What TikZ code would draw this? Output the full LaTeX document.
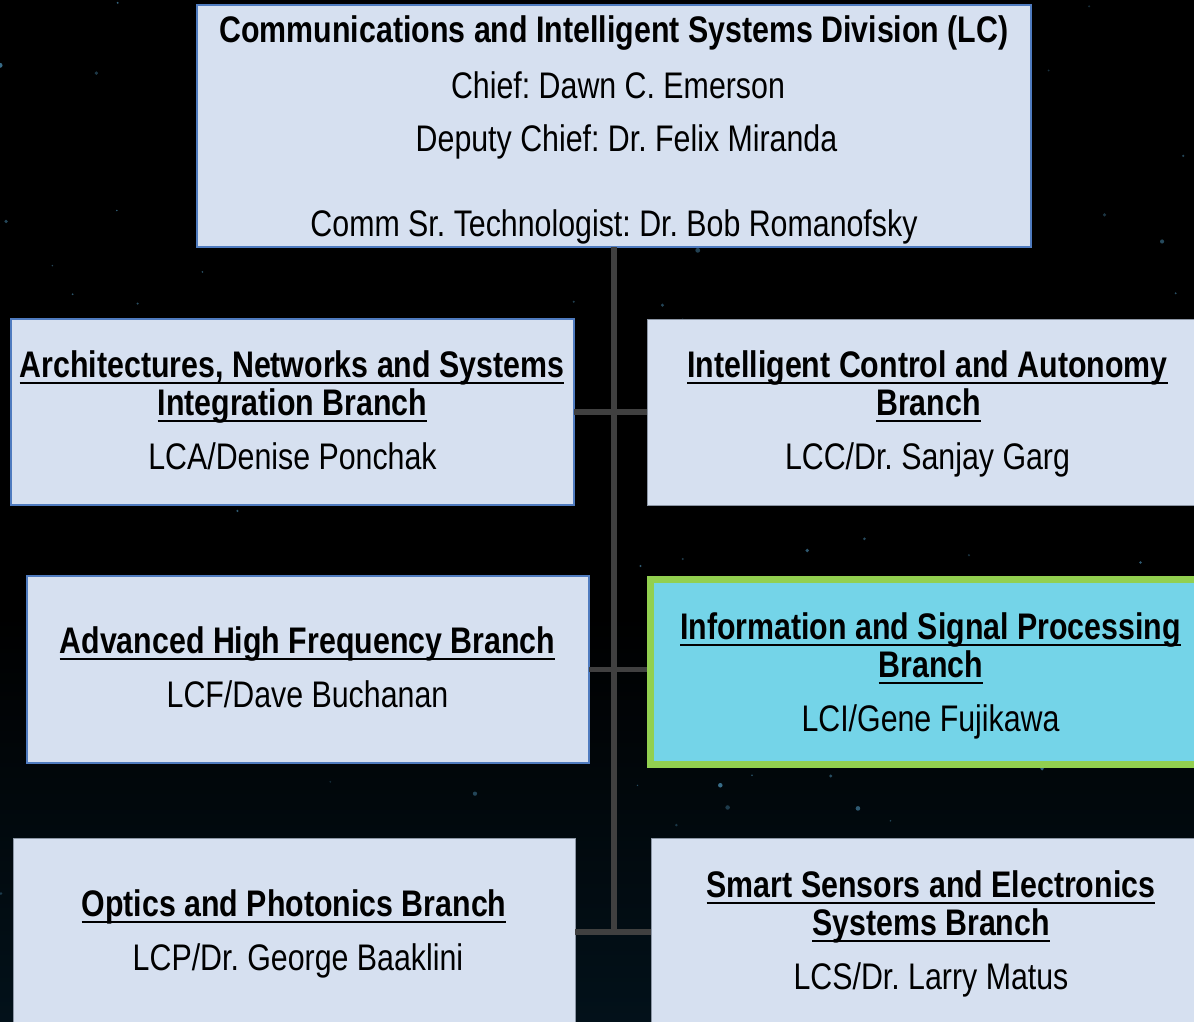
\documentclass[tikz,border=0pt]{standalone}
\usepackage{fontspec}
\setmainfont[FakeStretch=0.82]{Liberation Sans}
\frenchspacing
\newcommand{\ulx}[1]{\setbox0\hbox{#1}\rlap{\rule[-3.4pt]{\wd0}{1pt}}\box0}
\usetikzlibrary{fit}
\definecolor{boxfill}{RGB}{214,224,240}
\definecolor{boxblue}{RGB}{79,123,191}
\definecolor{boxgray}{RGB}{140,150,165}
\definecolor{hifill}{RGB}{116,212,232}
\definecolor{higreen}{RGB}{146,208,80}
\definecolor{conngray}{RGB}{64,64,64}
\definecolor{bgbot}{RGB}{11,56,76}
\definecolor{bgmid}{RGB}{3,20,30}
\definecolor{starcol}{RGB}{60,115,145}
\pgfdeclareverticalshading{bgsh}{100bp}{color(0bp)=(bgbot); color(22bp)=(bgmid); color(45bp)=(black); color(100bp)=(black)}
\begin{document}
\begin{tikzpicture}[x=0.5pt,y=-0.5pt,
  box/.style={draw=boxblue, line width=1pt, fill=boxfill, inner sep=0pt, outer sep=0pt},
  plainbox/.style={draw=boxgray, line width=0.4pt, fill=boxfill, inner sep=0pt, outer sep=0pt},
  hibox/.style={draw=higreen, line width=3.5pt, fill=hifill, inner sep=0pt, outer sep=0pt},
  conn/.style={draw=conngray, line width=2.6pt},
  txt/.style={anchor=base, inner sep=0pt, font=\fontsize{18.5}{22}\selectfont},
  hd/.style={txt, font=\fontsize{18.5}{22}\selectfont\bfseries}]
\useasboundingbox (0,0) rectangle (1194,1022);
\shade[shading=bgsh] (0,0) rectangle (1194,1022);
% stars
\pgfmathsetseed{11}
\foreach \i in {1,...,110}{
  \pgfmathsetmacro{\sx}{rnd*1194}
  \pgfmathsetmacro{\sy}{rnd*1022}
  \pgfmathsetmacro{\sr}{0.8+rnd*1.8}
  \pgfmathsetmacro{\so}{0.35+rnd*0.6}
  \fill[starcol, opacity=\so] (\sx,\sy) circle[radius=\sr];
}
% boxes
\node[box, fit={(197,5) (1031,247)}] (top) {};
\node[box, fit={(11,319) (574,505)}] (bA) {};
\node[plainbox, fit={(647,319) (1200,505)}] (bC) {};
\node[box, fit={(27,576) (589,763)}] (bF) {};
\node[plainbox, fit={(13,838) (575,1026)}] (bP) {};
\node[plainbox, fit={(651,838) (1200,1026)}] (bS) {};
% connectors
\coordinate (jbot) at (top.south |- bP.east);
\draw[conn] (top.south) -- ([yshift=-1.3pt]jbot);
\draw[conn] (bA.east) -- (bC.west);
\draw[conn] (bF.east) -- (bF.east -| 647,0);
\draw[conn] (bP.east) -- (bS.west);
\node[hibox, fit={(650.5,579.5) (1200,764.5)}] (bI) {};
% texts
\node[hd] (t0) at (614,43) {Communications and Intelligent Systems Division (LC)};
\node[txt] (t1) at (618,99) {Chief: Dawn C. Emerson};
\node[txt] (t2) at (626.5,151) {Deputy Chief: Dr. Felix Miranda};
\node[txt] (t3) at (614,236) {Comm Sr. Technologist: Dr. Bob Romanofsky};
\node[hd] (a1) at (292,377) {\ulx{Architectures, Networks and Systems}};
\node[hd] (a2) at (292.5,415) {\ulx{Integration Branch}};
\node[txt] (a3) at (292.5,469) {LCA/Denise Ponchak};
\node[hd] (c1) at (927.5,377) {\ulx{Intelligent Control and Autonomy}};
\node[hd] (c2) at (928.5,415) {\ulx{Branch}};
\node[txt] (c3) at (927.5,469) {LCC/Dr. Sanjay Garg};
\node[hd] (f1) at (307.5,653) {\ulx{Advanced High Frequency Branch}};
\node[txt] (f2) at (307.5,707) {LCF/Dave Buchanan};
\node[hd] (i1) at (930.5,639) {\ulx{Information and Signal Processing}};
\node[hd] (i2) at (931,677) {\ulx{Branch}};
\node[txt] (i3) at (930.5,731) {LCI/Gene Fujikawa};
\node[hd] (p1) at (294,916) {\ulx{Optics and Photonics Branch}};
\node[txt] (p2) at (298,970) {LCP/Dr. George Baaklini};
\node[hd] (s1) at (931,897) {\ulx{Smart Sensors and Electronics}};
\node[hd] (s2) at (931,935) {\ulx{Systems Branch}};
\node[txt] (s3) at (931,989) {LCS/Dr. Larry Matus};
\end{tikzpicture}
\end{document}
